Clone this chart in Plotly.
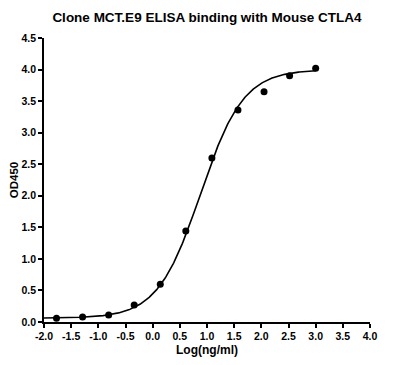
import numpy as np
import plotly.graph_objects as go

# Data
log_conc = [-1.77, -1.29, -0.81, -0.34, 0.14, 0.61, 1.09, 1.57, 2.05, 2.52, 3.00]
od450 = [0.06, 0.08, 0.11, 0.27, 0.60, 1.44, 2.60, 3.36, 3.65, 3.90, 4.02]

# 4PL fit parameters (estimated)
bottom, top, logec50, hill = 0.06, 4.00, 0.88, 1.1
curve_x = np.linspace(-2.0, 3.0, 300)
curve_y = bottom + (top - bottom) / (1 + 10 ** ((logec50 - curve_x) * hill))

x_ticks = [-2.0, -1.5, -1.0, -0.5, 0.0, 0.5, 1.0, 1.5, 2.0, 2.5, 3.0, 3.5, 4.0]
y_ticks = [0.0, 0.5, 1.0, 1.5, 2.0, 2.5, 3.0, 3.5, 4.0, 4.5]

FONT = "Liberation Sans, Arial, sans-serif"

W, H = 392, 357  # page body has an 8px margin

fig = go.Figure()
fig.add_trace(go.Scatter(x=curve_x, y=curve_y, mode="lines",
                         line=dict(color="black", width=1.6), hoverinfo="skip"))
fig.add_trace(go.Scatter(x=log_conc, y=od450, mode="markers",
                         marker=dict(color="black", size=7)))

fig.update_layout(
    width=W, height=H,
    margin=dict(l=36, r=30, t=30, b=43, autoexpand=False),
    paper_bgcolor="white", plot_bgcolor="white",
    showlegend=False,
    title=dict(text="<b>Clone MCT.E9 ELISA binding with Mouse CTLA4</b>",
               x=0.5, xref="paper", xanchor="center", y=1 - 9 / H, yref="container",
               yanchor="middle", automargin=False,
               font=dict(family=FONT, size=13.5, color="black")),
    font=dict(family=FONT, color="black"),
)
fig.update_xaxes(
    range=[-2.0, 4.0], tickvals=x_ticks, ticktext=[f"{v:.1f}" for v in x_ticks],
    showline=True, linecolor="black", linewidth=1.5, ticks="outside", ticklen=4,
    tickwidth=1.5, tickcolor="black", showgrid=False, zeroline=False, automargin=False,
    tickfont=dict(family=FONT, size=10.5, color="black", weight="bold"),
    title=dict(text="<b>Log(ng/ml)</b>", font=dict(family=FONT, size=12, color="black"),
               standoff=4),
)
fig.update_yaxes(
    range=[0.0, 4.5], tickvals=y_ticks, ticktext=[f"{v:.1f}" for v in y_ticks],
    showline=True, linecolor="black", linewidth=1.5, ticks="outside", ticklen=4,
    tickwidth=1.5, tickcolor="black", showgrid=False, zeroline=False, automargin=False,
    tickfont=dict(family=FONT, size=10.5, color="black", weight="bold"),
    title=dict(text="<b>OD450</b>", font=dict(family=FONT, size=11.5, color="black"),
               standoff=2),
)

fig.write_html("out.html")
